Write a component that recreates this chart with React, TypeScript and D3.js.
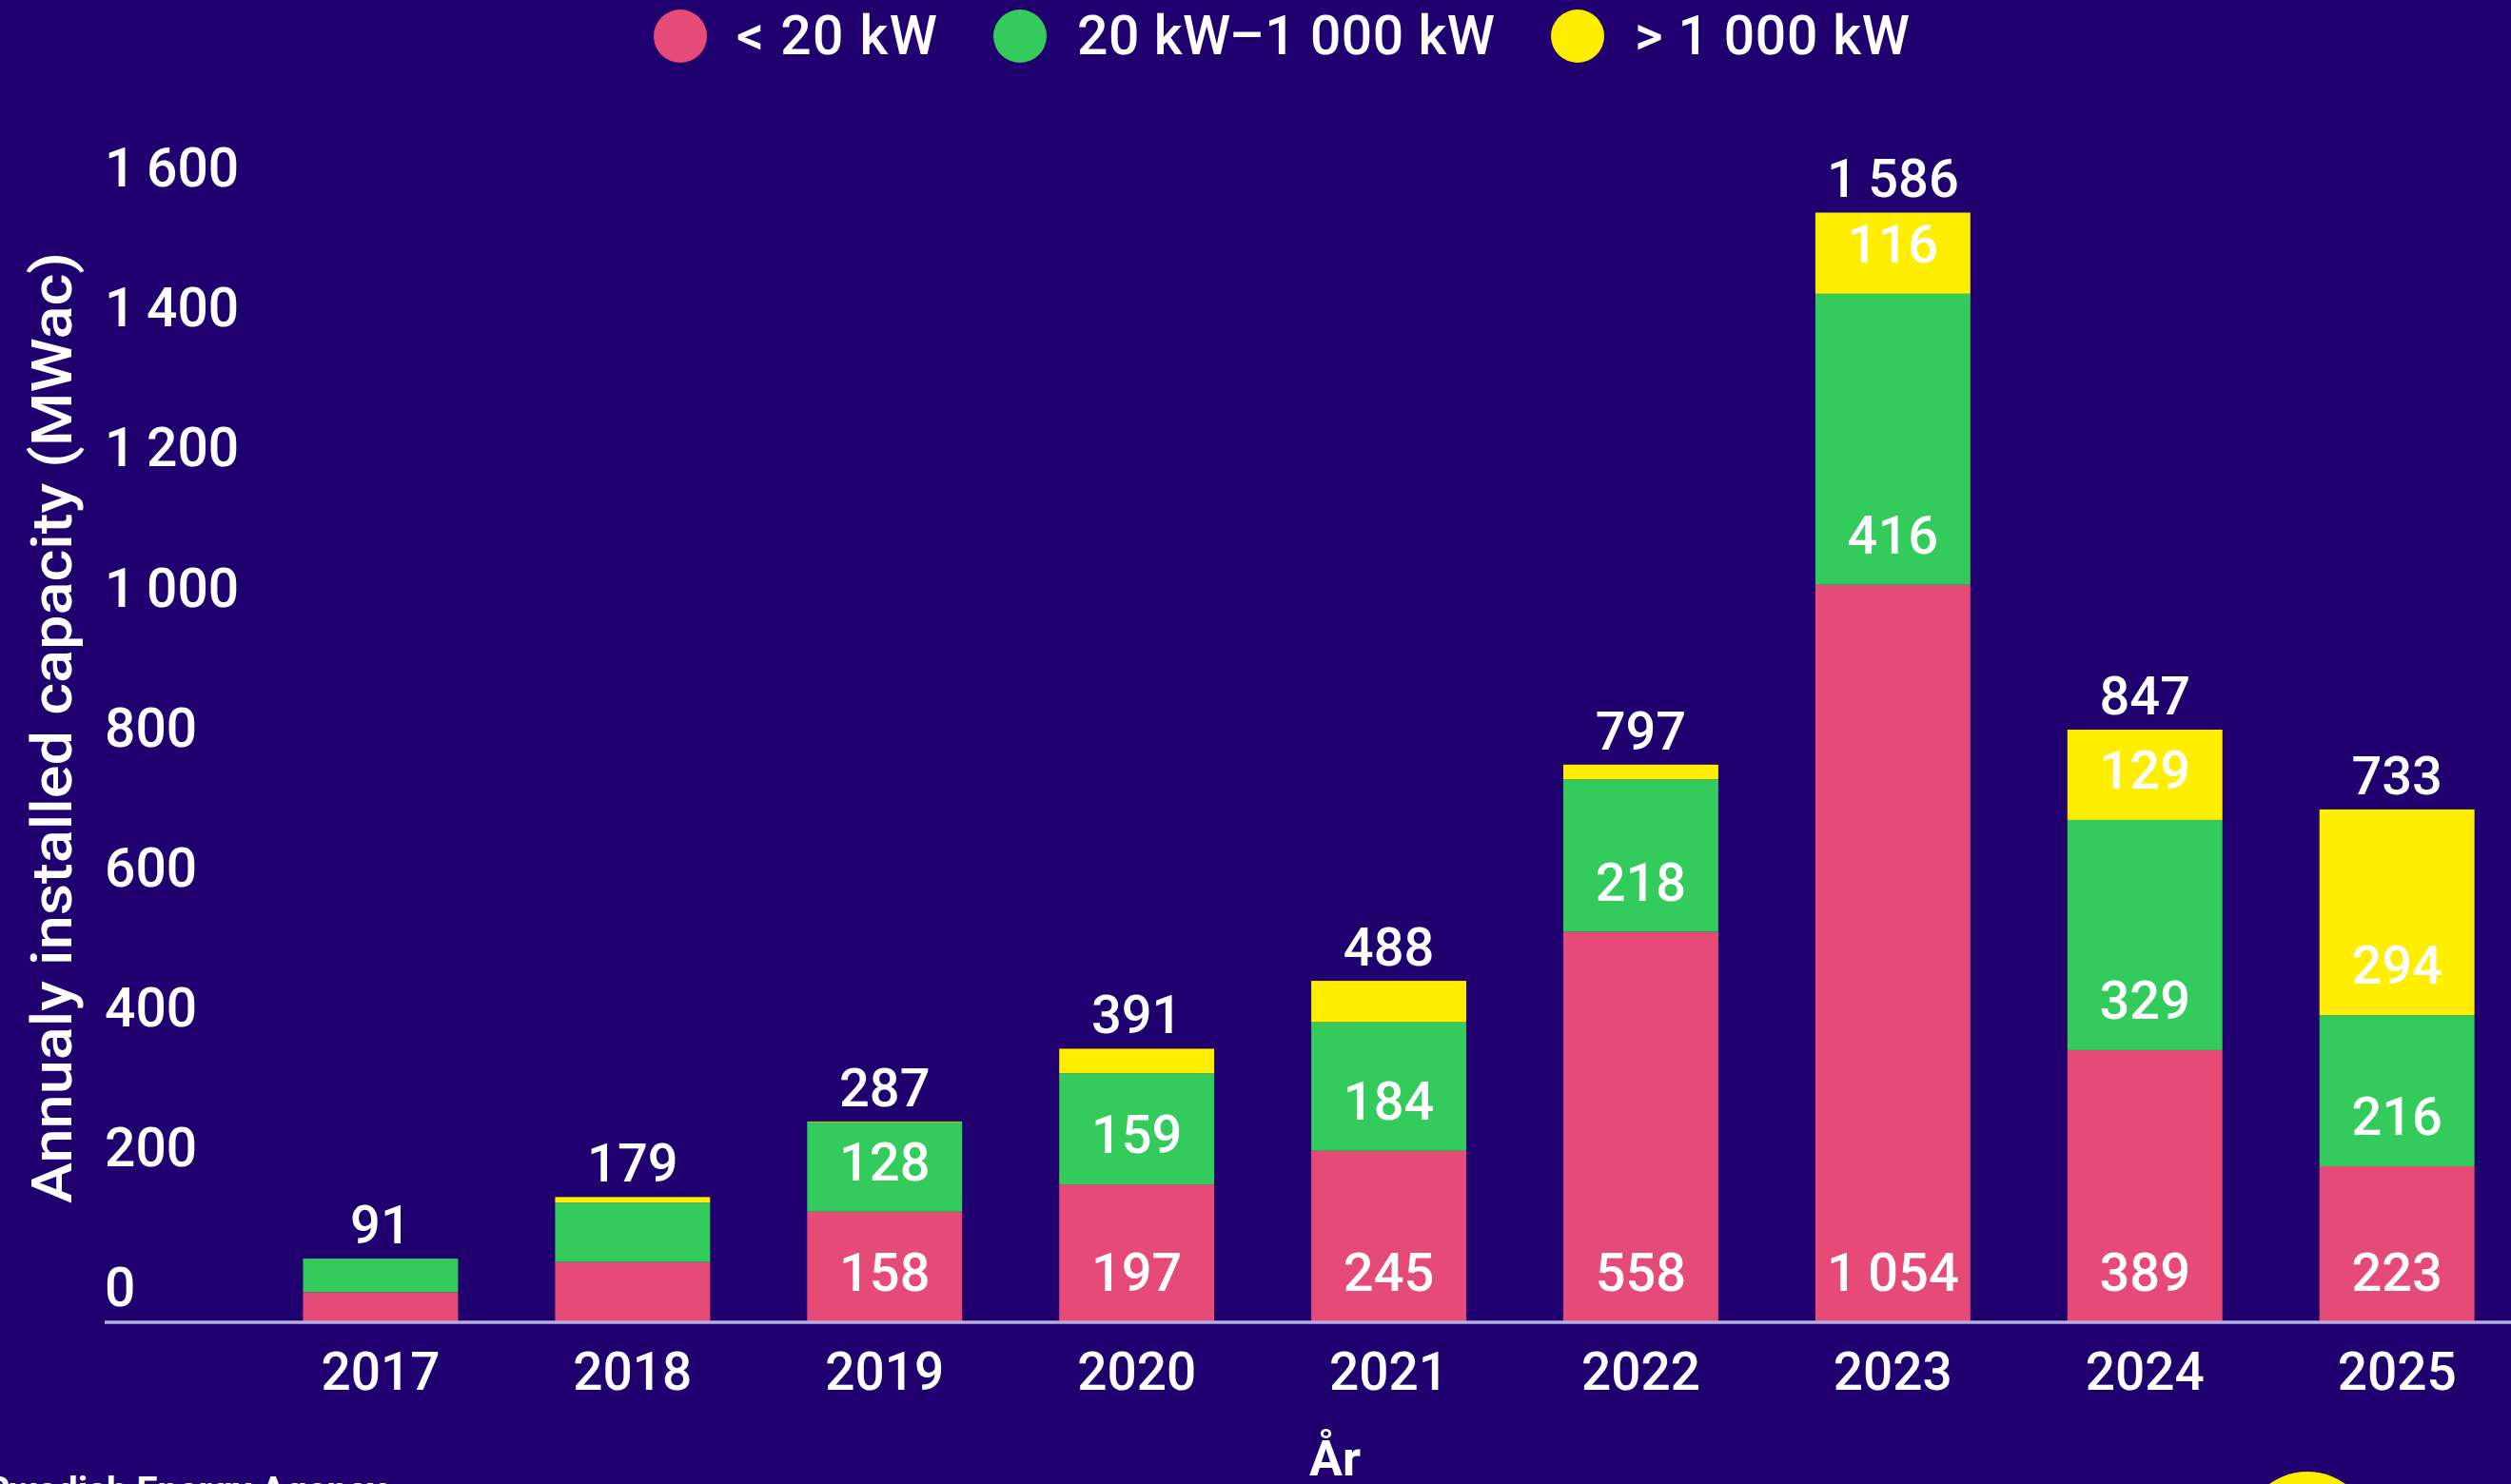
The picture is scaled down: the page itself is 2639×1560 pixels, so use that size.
import React, { useEffect } from 'react';
import * as d3 from 'd3';

const years = ['2017', '2018', '2019', '2020', '2021', '2022', '2023', '2024', '2025'];
const smallKW = [43, 86, 158, 197, 245, 558, 1054, 389, 223];
const mediumKW = [48, 85, 128, 159, 184, 218, 416, 329, 216];
const largeKW = [0, 8, 1, 35, 59, 21, 116, 129, 294];
const totals = [91, 179, 287, 391, 488, 797, 1586, 847, 733];
const seriesNames = ['< 20 kW', '20 kW–1 000 kW', '> 1 000 kW'];
const seriesKeys = ['small', 'medium', 'large'];
const yTicks = [0, 200, 400, 600, 800, 1000, 1200, 1400, 1600];
const yTitle = 'Annualy installed capacity (MWac)';
const xTitle = 'År';
const sourceText = 'Swedish Energy Agency';

const W = 2639;
const H = 1560;
const BG = '#1f006e';
const COLORS = ['#e64b78', '#33cb5c', '#ffee00'];
const FONT = 'Roboto, "Noto Sans", sans-serif';

const locale = d3.formatLocale({ decimal: ',', thousands: '\u2009', grouping: [3], currency: ['', ' kr'] });
const fmt = locale.format(',d');

export default function App() {
  useEffect(() => {
    document.body.style.margin = '0';
    document.body.style.overflow = 'hidden';
    document.body.style.background = BG;
  }, []);

  const rows = years.map((y, i) => ({ year: y, small: smallKW[i], medium: mediumKW[i], large: largeKW[i] }));
  const stacked = d3.stack<any>().keys(seriesKeys)(rows);

  const x = d3.scaleBand<string>().domain(years).range([267.5, 267.5 + 9 * 264.9]).paddingInner(0.385).paddingOuter(0.1925);
  const y = d3.scaleLinear().domain([0, 1600]).range([1390, 1390 - 1600 * 0.7355]);

  const legendItems = [
    { cx: 715, tx: 774, len: 211 },
    { cx: 1072, tx: 1132, len: 439 },
    { cx: 1658, tx: 1718, len: 289 },
  ];

  return (
    <svg width={W} height={H} style={{ display: 'block', background: BG }} fontFamily={FONT}>
      <rect x={0} y={0} width={W} height={H} fill={BG} />
      {/* legend */}
      {seriesNames.map((name, i) => (
        <g key={name}>
          <circle cx={legendItems[i].cx} cy={38} r={28} fill={COLORS[i]} />
          <text x={legendItems[i].tx} y={57} fill="#fff" fontSize={57} fontWeight={500} textLength={legendItems[i].len} lengthAdjust="spacing">{name}</text>
        </g>
      ))}
      {/* y tick labels */}
      {yTicks.map((t) => (
        <text key={t} x={110} y={y(t) - 17} fill="#fff" fontSize={57} fontWeight={500}>{fmt(t)}</text>
      ))}
      {/* y title */}
      <text transform={`translate(75, 765) rotate(-90)`} textAnchor="middle" fill="#fff" fontSize={59} fontWeight={500} textLength={1000} lengthAdjust="spacingAndGlyphs">{yTitle}</text>
      {/* bars */}
      {stacked.map((layer, si) => (
        <g key={layer.key} fill={COLORS[si]}>
          {layer.map((d, i) => (
            d[1] - d[0] > 0 ? (
              <rect key={i} x={x(years[i])} y={y(d[1])} width={x.bandwidth()} height={y(d[0]) - y(d[1])} />
            ) : null
          ))}
        </g>
      ))}
      {/* segment labels */}
      {stacked.map((layer, si) => (
        <g key={'l' + layer.key}>
          {layer.map((d, i) => {
            const v = d[1] - d[0];
            if (v < 100) return null;
            return (
              <text key={i} x={(x(years[i]) as number) + x.bandwidth() / 2} y={y(d[0]) - 33} textAnchor="middle" fill="#fff" fontSize={56} fontWeight={500}>{fmt(v)}</text>
            );
          })}
        </g>
      ))}
      {/* total labels */}
      {totals.map((t, i) => (
        <text key={i} x={(x(years[i]) as number) + x.bandwidth() / 2} y={y(t) - 16} textAnchor="middle" fill="#fff" fontSize={56} fontWeight={500}>{fmt(t)}</text>
      ))}
      {/* x axis line */}
      <line x1={110} x2={W} y1={1390} y2={1390} stroke="#b6addc" strokeWidth={3.5} />
      {/* x tick labels */}
      {years.map((yr) => (
        <text key={yr} x={(x(yr) as number) + x.bandwidth() / 2} y={1461} textAnchor="middle" fill="#fff" fontSize={55} fontWeight={500}>{yr}</text>
      ))}
      <text x={1403} y={1551} textAnchor="middle" fill="#fff" fontSize={52} fontWeight={700}>{xTitle}</text>
      <text x={-14} y={1580} fill="#fff" fontSize={39} fontWeight={700}>{sourceText}</text>
      <circle cx={2425} cy={1615} r={68} fill="#ffee00" />
    </svg>
  );
}
